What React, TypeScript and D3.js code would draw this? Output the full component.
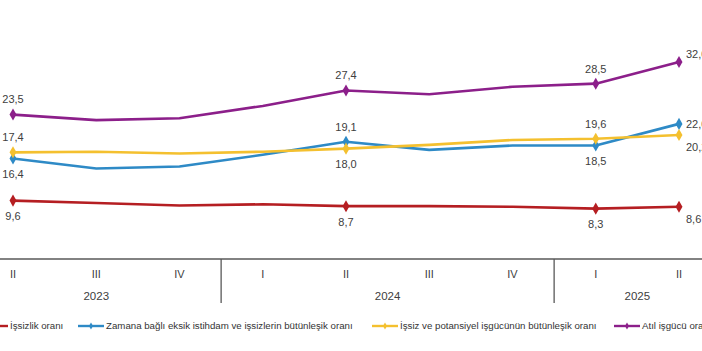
import React, { useEffect, useRef } from "react";
import * as d3 from "d3";

// quarters shown on the axis, with the year each one belongs to
const quarters = ["II", "III", "IV", "I", "II", "III", "IV", "I", "II"];
const quarterYears = ["2023", "2023", "2023", "2024", "2024", "2024", "2024", "2025", "2025"];
const years = ["2023", "2024", "2025"];

// series values (%)
const issizlik = [9.6, 9.2, 8.8, 9.0, 8.7, 8.7, 8.6, 8.3, 8.6];
const zamanaBagli = [16.4, 14.8, 15.1, 17.0, 19.1, 17.8, 18.5, 18.5, 22.0];
const potansiyel = [17.4, 17.5, 17.2, 17.5, 18.0, 18.6, 19.4, 19.6, 20.2];
const atil = [23.5, 22.6, 22.9, 24.9, 27.4, 26.8, 28.0, 28.5, 32.0];

// which points get a marker + value label, and where the label sits
const labelled = [0, 4, 7, 8];

const series = [
  { name: "İşsizlik oranı", values: issizlik, color: "#b51e22", sides: ["below", "below", "below", "rightBelow"] },
  { name: "Zamana bağlı eksik istihdam ve işsizlerin bütünleşik oranı", values: zamanaBagli, color: "#2e8ac6", sides: ["below", "above", "below", "right"] },
  { name: "İşsiz ve potansiyel işgücünün bütünleşik oranı", values: potansiyel, color: "#f4c02f", sides: ["above", "below", "above", "rightBelow"] },
  { name: "Atıl işgücü oranı", values: atil, color: "#8c1f8a", sides: ["above", "above", "above", "rightAbove"] },
];

const W = 702;
const H = 351;

export default function App() {
  const ref = useRef<SVGSVGElement>(null);

  useEffect(() => {
    const svg = d3.select(ref.current);
    svg.selectAll("*").remove();

    const x = d3.scaleLinear().domain([0, quarters.length - 1]).range([13, 679]);
    const y = d3.scaleLinear().domain([0, 40]).range([260, 12.5]);
    const axisY = 259;
    const fmt = (v: number) => d3.format(".1f")(v).replace(".", ",");
    const font = "Arial, 'Liberation Sans', sans-serif";

    // x axis base line
    svg.append("line")
      .attr("x1", 0).attr("x2", W)
      .attr("y1", axisY).attr("y2", axisY)
      .attr("stroke", "#595959").attr("stroke-width", 1.3);

    // quarter labels
    svg.selectAll(".q")
      .data(quarters)
      .join("text")
      .attr("x", (_, i) => x(i))
      .attr("y", 278)
      .attr("text-anchor", "middle")
      .attr("font-family", font)
      .attr("font-size", 11)
      .attr("fill", "#404040")
      .text(d => d);

    // year labels centred under their quarters, separators between years
    years.forEach((yr, k) => {
      const idx = quarterYears.map((q, i) => (q === yr ? i : -1)).filter(i => i >= 0);
      const first = idx[0];
      const last = idx[idx.length - 1];
      svg.append("text")
        .attr("x", (x(first) + x(last)) / 2)
        .attr("y", 300)
        .attr("text-anchor", "middle")
        .attr("font-family", font)
        .attr("font-size", 11.5)
        .attr("fill", "#404040")
        .text(yr);
      if (k < years.length - 1) {
        const sx = (x(last) + x(last + 1)) / 2;
        svg.append("line")
          .attr("x1", sx).attr("x2", sx)
          .attr("y1", axisY).attr("y2", 303)
          .attr("stroke", "#595959").attr("stroke-width", 1.3);
      }
    });

    const line = d3.line<number>()
      .x((_, i) => x(i))
      .y(d => y(d));
    const diamond = d3.symbol(d3.symbolDiamond, 42);

    series.forEach(s => {
      svg.append("path")
        .attr("d", line(s.values))
        .attr("fill", "none")
        .attr("stroke", s.color)
        .attr("stroke-width", 2.6)
        .attr("stroke-linejoin", "round");

      labelled.forEach((i, j) => {
        const px = x(i);
        const py = y(s.values[i]);
        svg.append("path")
          .attr("d", diamond())
          .attr("transform", `translate(${px},${py})`)
          .attr("fill", s.color);

        const side = s.sides[j];
        let tx = px, ty = py, anchor = "middle";
        if (side === "above") ty = py - 15;
        else if (side === "below") ty = py + 16;
        else {
          tx = px + 7;
          anchor = "start";
          if (side === "rightAbove") ty = py - 8;
          else if (side === "rightBelow") ty = py + 12;
        }
        svg.append("text")
          .attr("x", tx)
          .attr("y", ty)
          .attr("dy", "0.35em")
          .attr("text-anchor", anchor)
          .attr("font-family", font)
          .attr("font-size", 11)
          .attr("fill", "#404040")
          .text(fmt(s.values[i]));
      });
    });

    // legend
    const legendY = 326;
    const legendX = [-18, 78, 372, 614];
    series.forEach((s, k) => {
      const g = svg.append("g").attr("transform", `translate(${legendX[k]},${legendY})`);
      g.append("line")
        .attr("x1", 0).attr("x2", 26)
        .attr("stroke", s.color).attr("stroke-width", 2.4);
      g.append("path")
        .attr("d", d3.symbol(d3.symbolDiamond, 14)())
        .attr("transform", "translate(13,0)")
        .attr("fill", s.color);
      g.append("text")
        .attr("x", 28)
        .attr("dy", "0.35em")
        .attr("font-family", font)
        .attr("font-size", 9.7)
        .attr("fill", "#333")
        .text(s.name);
    });
  }, []);

  return (
    <svg
      ref={ref}
      width={W}
      height={H}
      style={{ position: "absolute", left: 0, top: 0, background: "#fff" }}
    />
  );
}
